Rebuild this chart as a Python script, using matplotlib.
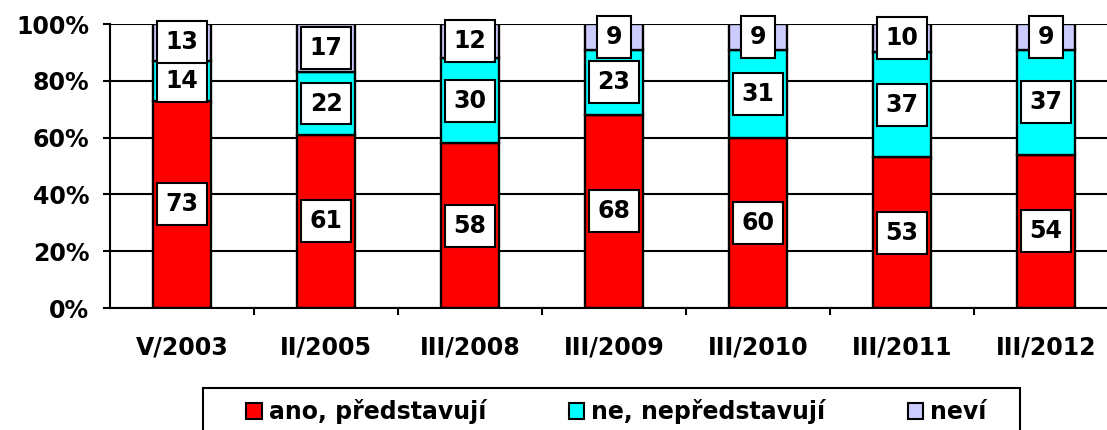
import numpy as np
import matplotlib.pyplot as plt
from matplotlib.patches import Patch, Rectangle

categories = ["V/2003", "II/2005", "III/2008", "III/2009", "III/2010", "III/2011", "III/2012"]
ano = [73, 61, 58, 68, 60, 53, 54]
ne = [14, 22, 30, 23, 31, 37, 37]
nevi = [13, 17, 12, 9, 9, 10, 9]
series_names = ["ano, představují", "ne, nepředstavují", "neví"]
colors = ["#FF0000", "#00FFFF", "#CCCCFF"]

plt.rcParams['font.family'] = ['DejaVu Sans']
plt.rcParams['font.weight'] = 'bold'

fig = plt.figure(figsize=(11.07, 4.30), dpi=100)
ax = fig.add_axes([110 / 1107, 1 - 308 / 430, 1008 / 1107, 284 / 430])

x = np.arange(len(categories))
bottom = np.zeros(len(categories))
for vals, col in zip([ano, ne, nevi], colors):
    vals = np.array(vals, dtype=float)
    ax.bar(x, vals, 0.4, bottom=bottom, color=col, edgecolor="black", linewidth=1.7, zorder=3)
    for xi, b, v in zip(x, bottom, vals):
        ax.text(xi, b + v / 2, str(int(v)), ha="center", va="center", fontsize=17,
                fontweight="bold", zorder=5, clip_on=False,
                bbox=dict(boxstyle="square,pad=0.38", facecolor="white", edgecolor="black", linewidth=1.5))
    bottom += vals

ax.set_xlim(-0.5, len(categories) - 0.5)
ax.set_ylim(0, 100)
ax.set_yticks(np.arange(0, 101, 20))
ax.set_yticklabels([f"{v}%" for v in range(0, 101, 20)], fontsize=17, fontweight="bold")
ax.yaxis.grid(True, color="black", linewidth=1.5, zorder=0)
ax.set_xticks(x)
ax.set_xticklabels(categories, fontsize=17, fontweight="bold")
ax.set_xticks(np.arange(0.5, len(categories) - 0.5, 1), minor=True)
ax.tick_params(axis="x", which="major", length=0, pad=20)
ax.tick_params(axis="x", which="minor", length=5, width=1.5, direction="out")
ax.tick_params(axis="y", length=5, width=1.5, direction="out", pad=10)
for side in ["top", "right"]:
    ax.spines[side].set_visible(False)
for side in ["left", "bottom"]:
    ax.spines[side].set_linewidth(1.5)
    ax.spines[side].set_zorder(4)

# legend frame drawn by hand, the box is wider than the legend itself
fig.patches.append(Rectangle((203 / 1107, -0.05), 817 / 1107, 1 - 388 / 430 + 0.05,
                             transform=fig.transFigure, facecolor="none", edgecolor="black",
                             linewidth=1.5))
handles = [Patch(facecolor=c, edgecolor="black", linewidth=1.5, label=n) for c, n in zip(colors, series_names)]
leg = fig.legend(handles=handles, loc="upper center", bbox_to_anchor=(0.557, 1 - 399 / 430), ncol=3,
                 frameon=False, handlelength=0.65, handleheight=0.65,
                 handletextpad=0.3, columnspacing=3.5, borderpad=0, borderaxespad=0,
                 prop={"weight": "bold", "size": 17})

fig.savefig("out.png", dpi=100)
